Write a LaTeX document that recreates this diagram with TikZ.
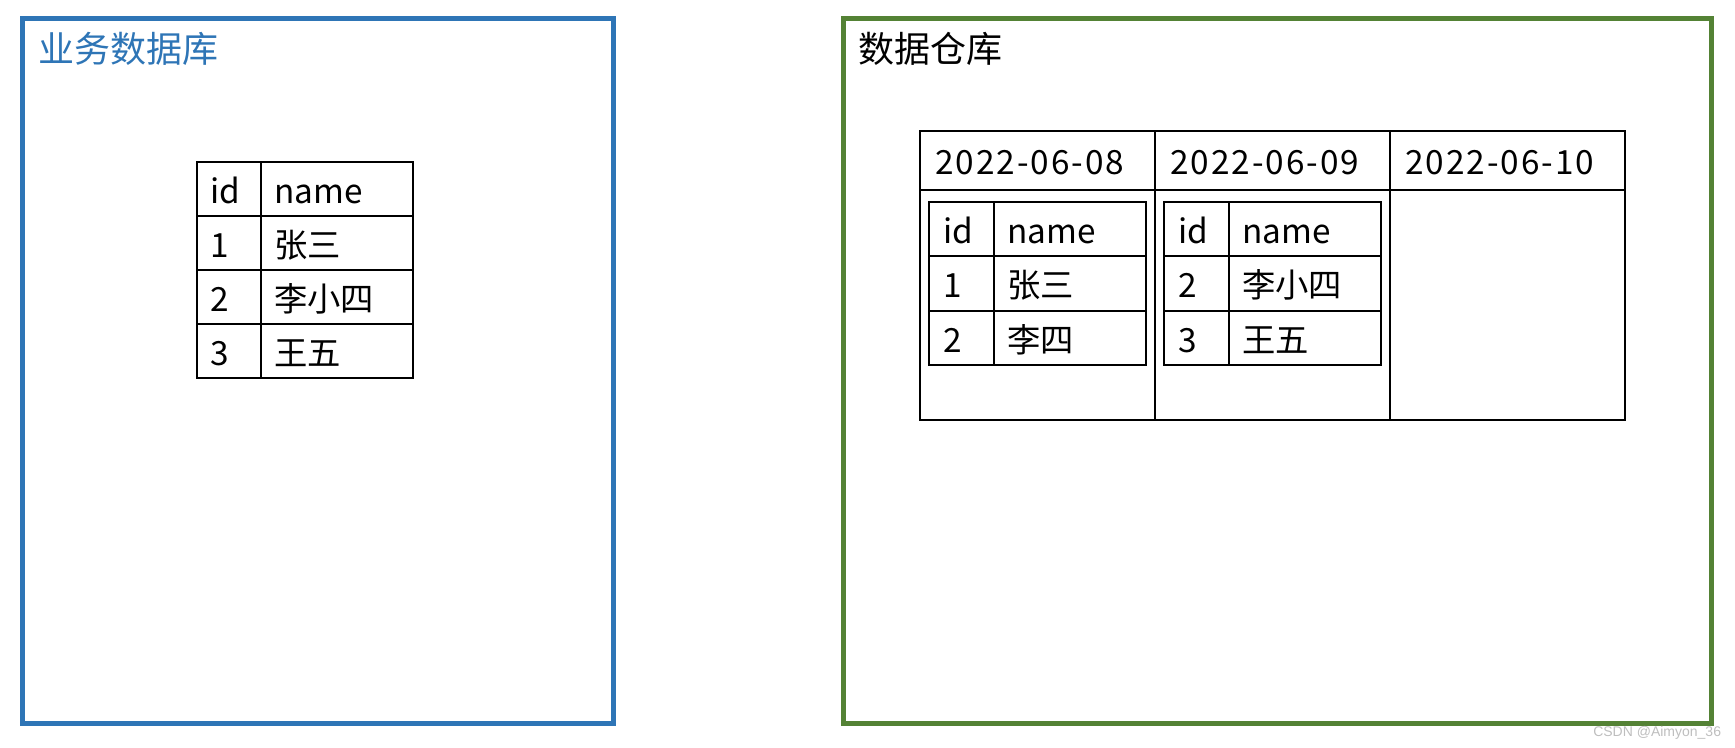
\documentclass[tikz,border=0pt]{standalone}
\usepackage{fontspec}
\usepackage{xcolor}
\setmainfont{Noto Sans CJK SC}
\newfontfamily\markfont{Liberation Sans}
\definecolor{dbblue}{RGB}{46,117,182}
\definecolor{dwgreen}{RGB}{84,130,53}

\begin{document}
\begin{tikzpicture}[x=0.75pt,y=0.75pt,yscale=-1,xscale=1,
  box/.style={line width=3.75pt},
  cell/.style={line width=1.5pt},
  celltext/.style={anchor=base west,inner sep=0pt,font=\fontsize{25}{30}\selectfont},
  datetext/.style={celltext,font=\fontsize{25}{30}\selectfont\addfontfeature{LetterSpace=6}},
  titletext/.style={anchor=base west,inner sep=0pt,font=\fontsize{27}{32}\selectfont}]
\useasboundingbox (0,0) rectangle (1735,748);

%Shape: Rectangle [business database]
\draw [box,color=dbblue] (22,19) rectangle (613,723) ;
%Shape: Rectangle [data warehouse]
\draw [box,color=dwgreen] (843,19) rectangle (1711,723) ;

%Shape: Table [source]
\draw [cell] (197,162) rectangle (413,378) ;
\draw [cell] (197,216) -- (413,216) ;
\draw [cell] (197,270) -- (413,270) ;
\draw [cell] (197,324) -- (413,324) ;
\draw [cell] (261,162) -- (261,378) ;

%Shape: Table [partitions]
\draw [cell] (920,131) rectangle (1625,420) ;
\draw [cell] (920,190) -- (1625,190) ;
\draw [cell] (1155,131) -- (1155,420) ;
\draw [cell] (1390,131) -- (1390,420) ;

%Shape: Table [partition 08]
\draw [cell] (929,202) rectangle (1146,365) ;
\draw [cell] (929,256) -- (1146,256) ;
\draw [cell] (929,311) -- (1146,311) ;
\draw [cell] (994,202) -- (994,365) ;

%Shape: Table [partition 09]
\draw [cell] (1164,202) rectangle (1381,365) ;
\draw [cell] (1164,256) -- (1381,256) ;
\draw [cell] (1164,311) -- (1381,311) ;
\draw [cell] (1229,202) -- (1229,365) ;

% Text Node
\node [titletext,color=dbblue] (dbtitle) at (38,63) {业务数据库};
% Text Node
\node [titletext] (dwtitle) at (858,63) {数据仓库};

% Text Node
\node [celltext] (srcid) at (210,204) {id};
\node [celltext] (srcname) at (274,204) {name};
\node [celltext] (srcida) at (210,258) {1};
\node [celltext] (srcnamea) at (274,258) {张三};
\node [celltext] (srcidb) at (210,312) {2};
\node [celltext] (srcnameb) at (274,312) {李小四};
\node [celltext] (srcidc) at (210,366) {3};
\node [celltext] (srcnamec) at (274,366) {王五};

% Text Node
\node [datetext] (dayeight) at (935,175) {2022-06-08};
\node [datetext] (daynine) at (1170,175) {2022-06-09};
\node [datetext] (dayten) at (1405,175) {2022-06-10};

% Text Node
\node [celltext] (eightid) at (943,244) {id};
\node [celltext] (eightname) at (1007,244) {name};
\node [celltext] (eightida) at (943,298) {1};
\node [celltext] (eightnamea) at (1007,298) {张三};
\node [celltext] (eightidb) at (943,353) {2};
\node [celltext] (eightnameb) at (1007,353) {李四};

% Text Node
\node [celltext] (nineid) at (1178,244) {id};
\node [celltext] (ninename) at (1242,244) {name};
\node [celltext] (nineida) at (1178,298) {2};
\node [celltext] (ninenamea) at (1242,298) {李小四};
\node [celltext] (nineidb) at (1178,353) {3};
\node [celltext] (ninenameb) at (1242,353) {王五};

% Text Node
\node [anchor=base west,inner sep=0pt,font=\markfont\fontsize{10.5}{12}\selectfont,color={rgb, 255:red, 190; green, 190; blue, 190 }] (mark) at (1593,736) {CSDN @Aimyon\_36};
\end{tikzpicture}
\end{document}
